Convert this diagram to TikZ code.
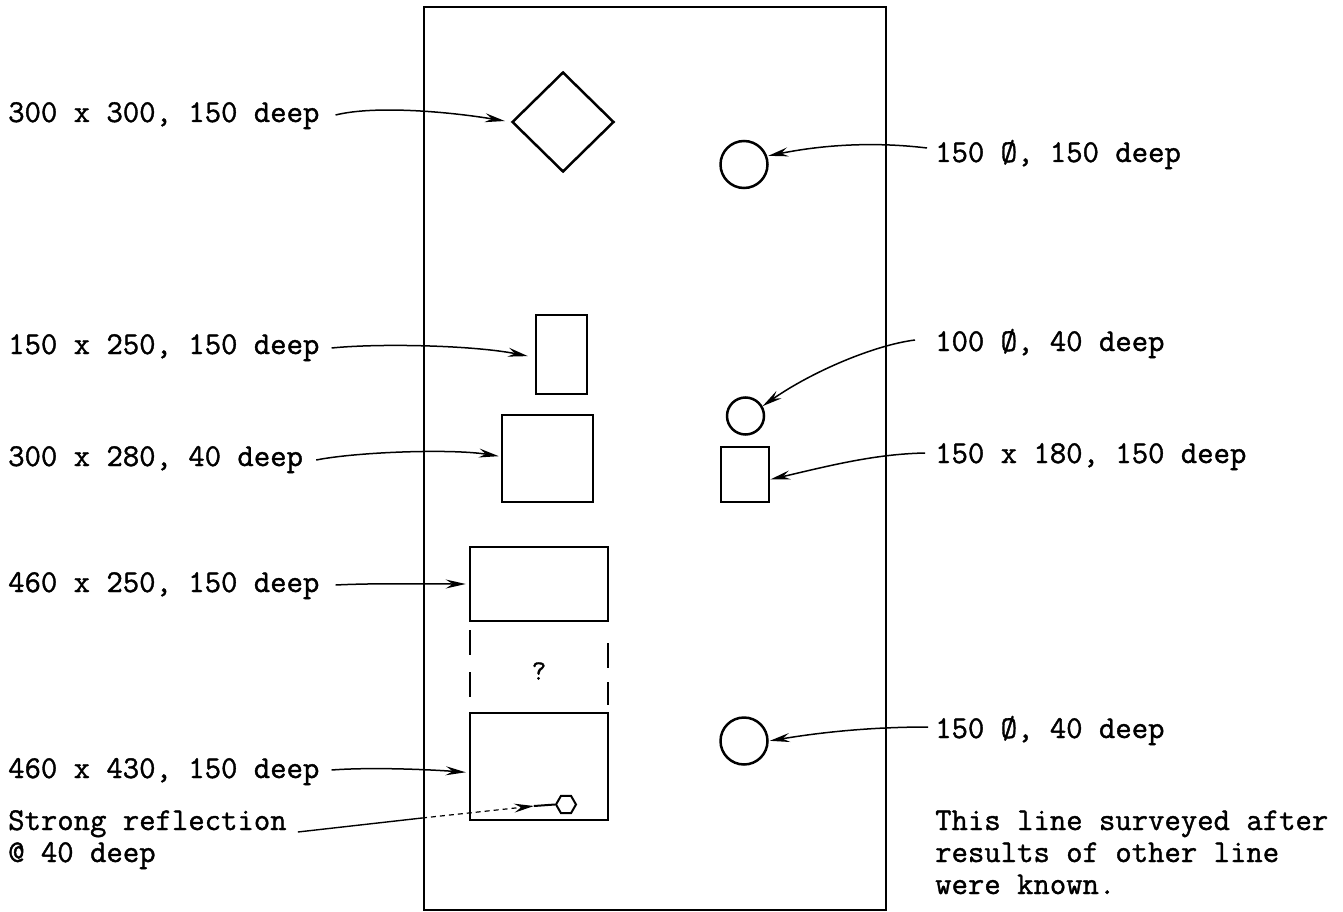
\documentclass[tikz,border=0pt]{standalone}
\usepackage{fontspec}
\newfontfamily\tw[FakeBold=1.2]{Latin Modern Mono}
\usetikzlibrary{arrows.meta,shapes.geometric}
\begin{document}
\begin{tikzpicture}[x=1pt,y=-1pt,
  shp/.style={draw, line width=2.5pt, inner sep=0pt},
  lab/.style={font=\tw\fontsize{31.8}{32}\selectfont, inner sep=0pt, anchor=base west},
  arr/.style={line width=1.5pt, -{Stealth[length=20pt,width=9pt,inset=7pt]}}]
\useasboundingbox (0,0) rectangle (1343,912);
% frame
\draw[line width=2.2pt] (424,7) rectangle (886,910);
% shapes
\node[shp, diamond, minimum width=102pt, minimum height=100pt] (dia) at (563,122) {};
\node[shp, circle, minimum size=47pt] (c1) at (744,164.5) {};
\node[shp, minimum width=51pt, minimum height=79pt] (r1) at (561.5,354.5) {};
\node[shp, circle, minimum size=37pt] (c2) at (745.5,416) {};
\node[shp, minimum width=91pt, minimum height=87pt] (r2) at (547.5,458.5) {};
\node[shp, minimum width=48pt, minimum height=55pt] (sq) at (745,474.5) {};
\node[shp, minimum width=138pt, minimum height=74pt] (r3) at (539,584) {};
\node[shp, minimum width=138pt, minimum height=107pt] (r4) at (539,766.5) {};
\node[shp, circle, minimum size=47pt] (c3) at (744,741) {};
\node[draw, line width=2pt, regular polygon, regular polygon sides=6, minimum size=20pt, inner sep=0pt] (hex) at (566,804.5) {};
\node[font=\tw\fontsize{28}{30}\selectfont, inner sep=0pt] (q) at (539,671) {?};
\draw[line width=2pt] (470,630)--(470,655) (470,672)--(470,697) (608,643)--(608,668) (608,682)--(608,705);
% labels
\node[lab] (l1) at (8,122) {300 x 300, 150 deep};
\node[lab] (l3) at (8,354) {150 x 250, 150 deep};
\node[lab] (l5) at (8,466) {300 x 280, 40 deep};
\node[lab] (l7) at (8,592) {460 x 250, 150 deep};
\node[lab] (l9) at (8,778) {460 x 430, 150 deep};
\node[lab] (l10) at (8,830) {Strong reflection};
\node[lab] (l11) at (8,862) {@ 40 deep};
\node[lab] (l2) at (935,162) {150 Ø, 150 deep};
\node[lab] (l4) at (935,351) {100 Ø, 40 deep};
\node[lab] (l6) at (935,463) {150 x 180, 150 deep};
\node[lab] (l8) at (935,738) {150 Ø, 40 deep};
\node[lab] (n1) at (935,830) {This line surveyed after};
\node[lab] (n2) at (935,862) {results of other line};
\node[lab] (n3) at (935,894) {were known.};
% arrows
\draw[arr, shorten >=6pt] ([shift={(16pt,7pt)}]l1.base east) .. controls +(40,-10) and +(-60,-10) .. (dia.west);
\draw[arr, shorten >=1pt] ([shift={(-8pt,14pt)}]l2.base west) .. controls +(-50,-6) and +(60,-12) .. (c1.20);
\draw[arr, shorten >=7pt] ([shift={(12pt,6pt)}]l3.base east) .. controls +(50,-5) and +(-60,-12) .. ([yshift=-3pt]r1.west);
\draw[arr] ([shift={(-20pt,11pt)}]l4.base west) .. controls +(-40,5) and +(50,-35) .. (c2.30);
\draw[arr, shorten >=2pt] ([shift={(13pt,6pt)}]l5.base east) .. controls +(40,-8) and +(-50,-8) .. ([yshift=2pt]r2.west);
\draw[arr] ([shift={(-10pt,10pt)}]l6.base west) .. controls +(-50,1) and +(60,-14) .. ([yshift=-5pt]sq.east);
\draw[arr, shorten >=3pt] ([shift={(16pt,7pt)}]l7.base east) .. controls +(40,-2) and +(-40,0) .. (r3.west);
\draw[arr, shorten >=1pt] ([shift={(-7pt,11pt)}]l8.base west) .. controls +(-50,0) and +(60,-10) .. (c3.east);
\draw[arr, shorten >=3pt] ([shift={(12pt,8pt)}]l9.base east) .. controls +(40,-3) and +(-40,-3) .. ([yshift=-6pt]r4.west);
% strong reflection pointer
\coordinate (m1) at (422,818);
\coordinate (m2) at (534,806);
\draw[line width=1.4pt] ([shift={(11pt,-2pt)}]l10.base east) -- (m1);
\draw[line width=1.2pt, dash pattern=on 5pt off 4pt, -{Stealth[length=20pt,width=9pt,inset=7pt]}] (m1) -- (m2);
\draw[line width=2pt] (m2) -- (hex.west);
\end{tikzpicture}
\end{document}
